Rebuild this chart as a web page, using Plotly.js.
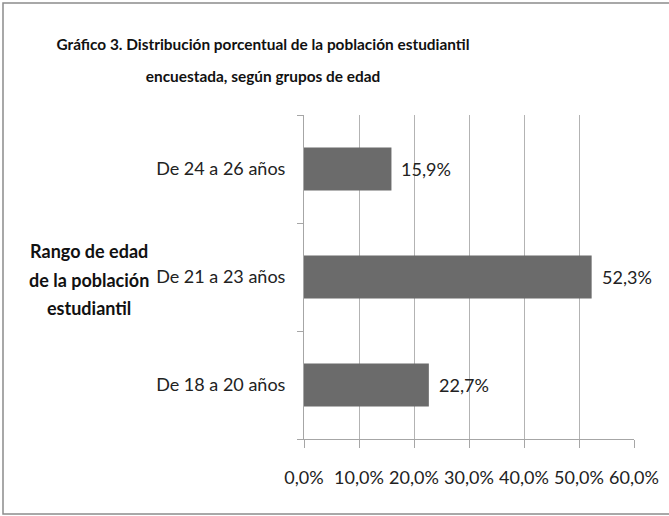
<!DOCTYPE html>
<html>
<head>
<meta charset="utf-8">
<script src="https://cdn.plot.ly/plotly-3.0.1.min.js"></script>
<style>
html,body{margin:0;padding:0;background:#fff;}
#chart{width:669px;height:516px;}
</style>
</head>
<body>
<div id="chart"></div>
<script>
var categories = ["De 18 a 20 años", "De 21 a 23 años", "De 24 a 26 años"];
var values = [22.7, 52.3, 15.9];
var xTicks = [0, 10, 20, 30, 40, 50, 60];
var xTickLabels = ["0,0%", "10,0%", "20,0%", "30,0%", "40,0%", "50,0%", "60,0%"];
var valueLabels = ["22,7%", "52,3%", "15,9%"];
var titleLines = ["Gráfico 3. Distribución porcentual de la población estudiantil", "encuestada, según grupos de edad"];
var yTitleLines = ["Rango de edad", "de la población", "estudiantil"];

var FONT = "Lato, 'Liberation Sans', sans-serif";

function lines(arr, px) {
  return arr.map(function (s) {
    return "<span style='font-size:" + px + "px'><b>" + s + "</b></span>";
  }).join("<br>");
}

var trace = {
  type: "bar",
  orientation: "h",
  y: categories,
  x: values,
  marker: {color: "#6b6b6b"},
  hoverinfo: "none"
};

var annotations = categories.map(function (c, i) {
  return {
    x: values[i], y: c, xref: "x", yref: "y",
    text: valueLabels[i],
    showarrow: false, xanchor: "left", yanchor: "middle", xshift: 8,
    font: {family: FONT, size: 18, color: "#222"}
  };
});
annotations.push({
  xref: "paper", yref: "paper", x: -215/330, y: (439 - 279) / 324,
  xanchor: "center", yanchor: "middle",
  text: lines(yTitleLines, 18), showarrow: false,
  font: {family: FONT, size: 22, color: "#111"}
});

var layout = {
  width: 669, height: 516,
  margin: {l: 304, r: 35, t: 115, b: 77},
  paper_bgcolor: "#fff", plot_bgcolor: "#fff",
  showlegend: false,
  bargap: 0.6,
  title: {
    text: lines(titleLines, 15.4),
    xref: "container", x: 263/669, xanchor: "center",
    yref: "container", y: 1 - 50/516, yanchor: "top",
    font: {family: FONT, size: 24.5, color: "#111"}
  },
  xaxis: {
    range: [0, 60],
    tickvals: xTicks,
    ticktext: xTickLabels,
    showgrid: true, gridcolor: "#b3b3b3", gridwidth: 1,
    zeroline: false,
    showline: true, linecolor: "#a6a6a6", linewidth: 1,
    ticks: "outside", ticklen: 8, tickcolor: "#a6a6a6",
    ticklabelstandoff: 14,
    tickfont: {family: FONT, size: 18, color: "#222"},
    fixedrange: true
  },
  yaxis: {
    type: "category",
    categoryorder: "array", categoryarray: categories,
    showgrid: false, zeroline: false,
    showline: true, linecolor: "#a6a6a6", linewidth: 1,
    ticks: "outside", ticklen: 6, tickcolor: "#a6a6a6",
    tickson: "boundaries",
    ticklabelstandoff: 14,
    tickfont: {family: FONT, size: 18, color: "#222"},
    fixedrange: true
  },
  annotations: annotations,
  shapes: [{
    type: "rect", xref: "paper", yref: "paper",
    x0: -301/330, x1: 368/330, y0: -75/324, y1: 436/324,
    line: {color: "#8c8c8c", width: 1.5}, fillcolor: "rgba(0,0,0,0)", layer: "below"
  }]
};

Plotly.newPlot("chart", [trace], layout, {displayModeBar: false, staticPlot: true});
</script>
</body>
</html>
